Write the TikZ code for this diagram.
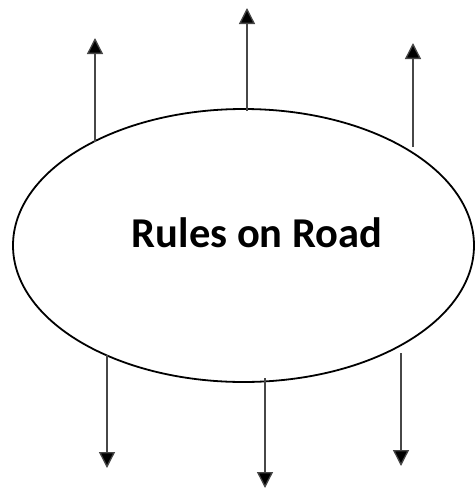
\documentclass[tikz,border=0pt]{standalone}
\usepackage{fontspec}
\setmainfont{Carlito}
\usetikzlibrary{arrows.meta,shapes.geometric}
\begin{document}
\begin{tikzpicture}[x=1pt,y=-1pt,
  arr/.style={draw=black!72,line width=1.3pt,-{Triangle[width=16pt,length=16pt,fill=black]}},
  oval/.style={draw=black,line width=1.8pt,ellipse,minimum width=461pt,minimum height=273pt,inner sep=0pt}]
\useasboundingbox (0,0) rectangle (476,488);
\node[oval] (e) at (243.5,245.5) {};
\node[font=\bfseries\fontsize{42.5}{46}\selectfont,anchor=base] (t) at (257,247) {Rules on Road};
\coordinate (a1s) at (95,142); \coordinate (a1e) at (95,38);
\coordinate (a2s) at (247,111); \coordinate (a2e) at (247,8);
\coordinate (a3s) at (413,147); \coordinate (a3e) at (413,43);
\coordinate (b1s) at (107,355); \coordinate (b1e) at (107,468);
\coordinate (b2s) at (265,378); \coordinate (b2e) at (265,488);
\coordinate (b3s) at (401,353); \coordinate (b3e) at (401,466);
\draw[arr] (a1s) -- (a1e);
\draw[arr] (a2s) -- (a2e);
\draw[arr] (a3s) -- (a3e);
\draw[arr] (b1s) -- (b1e);
\draw[arr] (b2s) -- (b2e);
\draw[arr] (b3s) -- (b3e);
\end{tikzpicture}
\end{document}
